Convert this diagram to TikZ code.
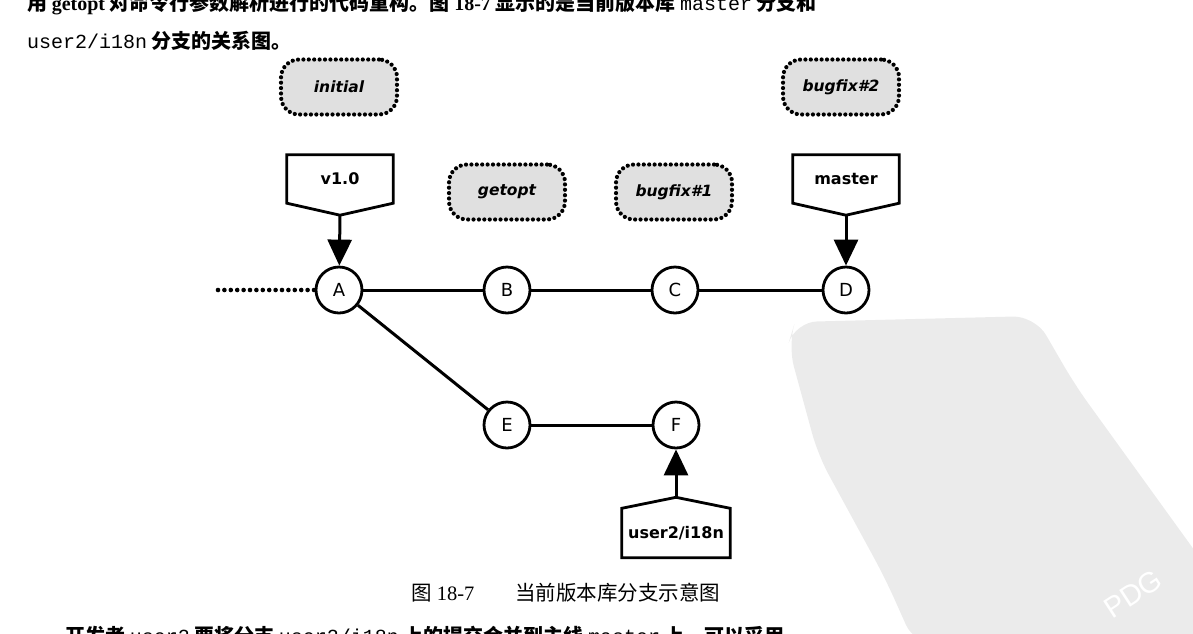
\documentclass[tikz,border=0pt]{standalone}
\usepackage{fontspec}
\setmainfont{Liberation Serif}
\newfontfamily\zh{Noto Sans CJK SC}
\newfontfamily\monofam{Liberation Mono}
\newfontfamily\dvs{DejaVu Sans}
\newfontfamily\lsans{Liberation Sans}
\usetikzlibrary{arrows.meta,calc}

\begin{document}
\begin{tikzpicture}[x=1pt,y=-1pt,
  bodytext/.style={inner sep=0pt, font=\zh\bfseries\fontsize{20}{20}\selectfont},
  captext/.style={inner sep=0pt, font=\zh\fontsize{20.5}{20.5}\selectfont},
  commit/.style={circle, draw, line width=2.8pt, minimum size=46pt, inner sep=0pt,
    fill=white, font=\dvs\fontsize{18}{18}\selectfont},
  cloudbox/.style={rectangle, rounded corners=18pt, draw, fill=black!12,
    line width=4.2pt, dash pattern=on 0pt off 5.4pt, line cap=round,
    minimum width=116pt, minimum height=55pt, inner sep=0pt,
    font=\dvs\bfseries\itshape\fontsize{15.5}{15.5}\selectfont},
  reflabel/.style={rectangle, minimum width=106pt, minimum height=48pt, inner sep=0pt,
    font=\dvs\bfseries\fontsize{16}{16}\selectfont},
  refshape/.style={draw, line width=2.8pt, line join=miter},
  history/.style={line width=3pt},
  pointer/.style={line width=3pt, -{Triangle[length=26pt,width=24pt]}},
  olderhist/.style={line width=4.6pt, dash pattern=on 0pt off 6.4pt, line cap=round}
]
\useasboundingbox (0,0) rectangle (1193,633);

% watermark stamp
\fill[black!8, rounded corners=22pt] (795,322) -- (1035,316) -- (1075,385) -- (1205,565)
  -- (1205,645) -- (915,645) -- (885,578) -- (818,455) -- (788,345) -- cycle;
\node[rotate=33, text=white, inner sep=0pt, font=\lsans\fontsize{29}{29}\selectfont]
  (stamp) at (1133,594) {PDG};

% surrounding text of the page
\node[bodytext, anchor=base west] (line1) at (27,10)
  {用 {\rmfamily\bfseries getopt} 对命令行参数解析进行的代码重构。图 {\rmfamily\bfseries 18-7} 显示的是当前版本库 {\monofam\mdseries master} 分支和};
\node[bodytext, anchor=base west] (line2) at (27,48)
  {{\monofam\mdseries user2/i18n} 分支的关系图。};
\node[captext, anchor=base] (caption) at (566,600)
  {图 {\rmfamily 18-7}\quad\quad 当前版本库分支示意图};
\node[bodytext, anchor=base west] (line3) at (65,643)
  {开发者 {\monofam\mdseries user2} 要将分支 {\monofam\mdseries user2/i18n} 上的提交合并到主线 {\monofam\mdseries master} 上，可以采用};

% commits
\node[commit] (A) at (339,290) {A};
\node[commit] (B) at (507,290) {B};
\node[commit] (C) at (675,290) {C};
\node[commit] (D) at (846,290) {D};
\node[commit] (E) at (507,425) {E};
\node[commit] (F) at (676,425) {F};

% commit notes
\node[cloudbox] (initial) at (339,87) {initial};
\node[cloudbox] (getopt) at (507,192) {getopt};
\node[cloudbox] (bugfix1) at (674,192) {bugfix\#1};
\node[cloudbox] (bugfix2) at (841,87) {bugfix\#2};

% history lines
\coordinate (older) at (218,290);
\draw[olderhist] (older) -- (A.west);
\draw[history] (A) -- (B);
\draw[history] (B) -- (C);
\draw[history] (C) -- (D);
\draw[history] (A) -- (E);
\draw[history] (E) -- (F);

% references
\node[reflabel] (v10) at (340,179) {v1.0};
\coordinate (v10tip) at ($(v10.south)+(0,12)$);
\draw[refshape] (v10.north west) -- (v10.north east) -- (v10.south east)
  -- (v10tip) -- (v10.south west) -- cycle;
\draw[pointer] (v10tip) -- (A);

\node[reflabel] (master) at (846,179) {master};
\coordinate (mastertip) at ($(master.south)+(0,12)$);
\draw[refshape] (master.north west) -- (master.north east) -- (master.south east)
  -- (mastertip) -- (master.south west) -- cycle;
\draw[pointer] (mastertip) -- (D);

\node[reflabel, minimum width=108pt, minimum height=49pt] (i18n) at (676,533) {user2/i18n};
\coordinate (i18ntip) at ($(i18n.north)+(0,-11)$);
\draw[refshape] (i18n.south west) -- (i18n.south east) -- (i18n.north east)
  -- (i18ntip) -- (i18n.north west) -- cycle;
\draw[pointer] (i18ntip) -- (F);
\end{tikzpicture}
\end{document}
